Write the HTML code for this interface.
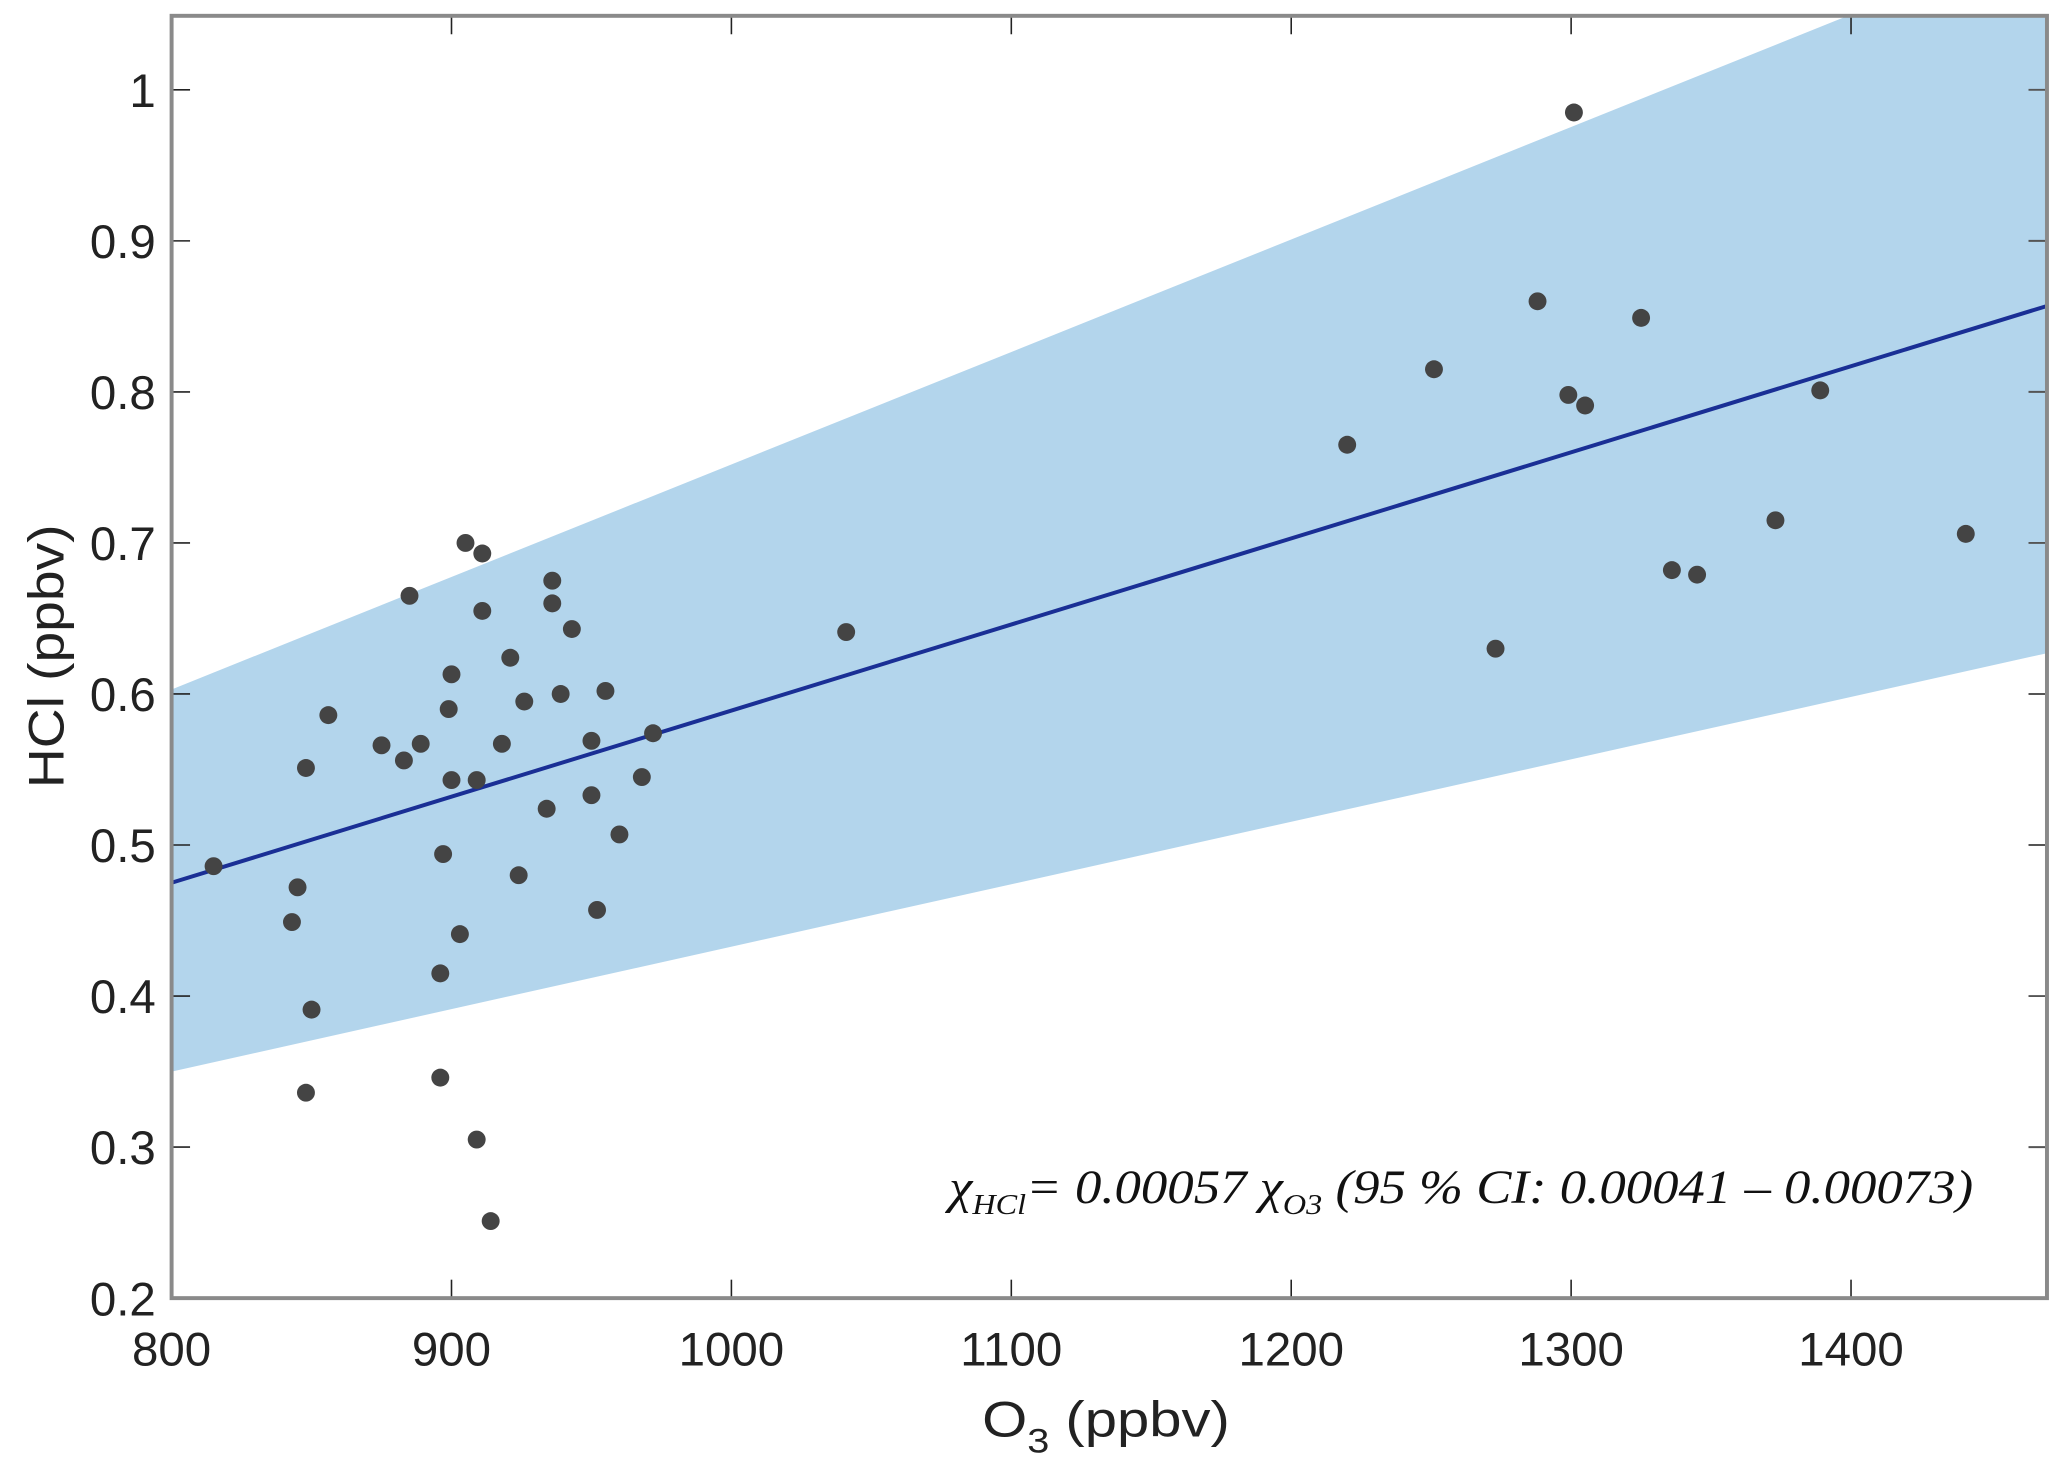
<!DOCTYPE html>
<html><head><meta charset="utf-8"><style>html,body{margin:0;padding:0;background:#fff}svg{display:block}</style></head>
<body>
<svg id="chart" width="2067" height="1480" viewBox="0 0 1568 1123" xmlns="http://www.w3.org/2000/svg" font-family="'Liberation Sans', sans-serif">
<g id="plot"></g>
<text x="720" y="913" font-family="'Liberation Serif', serif" font-style="italic" font-size="36" fill="#111" textLength="777" lengthAdjust="spacingAndGlyphs">χ<tspan font-size="22" dy="8">HCl</tspan><tspan dy="-8">= 0.00057 χ</tspan><tspan font-size="22" dy="8">O3</tspan><tspan dy="-8"> (95 % CI: 0.00041 – 0.00073)</tspan></text>
<text x="745" y="1090" font-size="38" fill="#222" textLength="188" lengthAdjust="spacingAndGlyphs">O<tspan font-size="26" dy="12">3</tspan><tspan dy="-12"> (ppbv)</tspan></text>
<text transform="translate(48,498) rotate(-90)" text-anchor="middle" font-size="38" fill="#222" textLength="200" lengthAdjust="spacingAndGlyphs">HCl (ppbv)</text>
</svg>
<script>
const xTicks=[800,900,1000,1100,1200,1300,1400];
const yTicks=[0.2,0.3,0.4,0.5,0.6,0.7,0.8,0.9,1];
const yTickLabels=["0.2","0.3","0.4","0.5","0.6","0.7","0.8","0.9","1"];
const xDomain=[800,1470];
const yDomain=[0.2,1.049];
const fitSlope=0.00057;
const fitIntercept=0.475-0.00057*800;
const ciUpper=[0.603,1.102];
const ciLower=[0.350,0.627];
const o3=[815,845,843,848,850,848,856,875,883,885,889,896,896,897,899,900,900,903,905,909,909,911,911,914,918,921,924,926,934,936,936,939,943,950,950,952,955,960,968,972,1041,1220,1251,1273,1288,1299,1301,1305,1325,1336,1345,1373,1389,1441];
const hcl=[0.486,0.472,0.449,0.551,0.391,0.336,0.586,0.566,0.556,0.665,0.567,0.346,0.415,0.494,0.590,0.543,0.613,0.441,0.700,0.543,0.305,0.693,0.655,0.251,0.567,0.624,0.480,0.595,0.524,0.675,0.660,0.600,0.643,0.533,0.569,0.457,0.602,0.507,0.545,0.574,0.641,0.765,0.815,0.630,0.860,0.798,0.985,0.791,0.849,0.682,0.679,0.715,0.801,0.706];
const L=130,R=1553,T=12,B=985;
const sx=v=>L+(v-xDomain[0])/(xDomain[1]-xDomain[0])*(R-L);
const sy=v=>B-(v-yDomain[0])/(yDomain[1]-yDomain[0])*(B-T);
const NS="http://www.w3.org/2000/svg";
const g=document.getElementById('plot');
function mk(t,a){const e=document.createElementNS(NS,t);for(const k in a)e.setAttribute(k,a[k]);g.appendChild(e);return e;}
const defs=mk('defs',{});
const cp=document.createElementNS(NS,'clipPath');cp.setAttribute('id','clip');
const cr=document.createElementNS(NS,'rect');cr.setAttribute('x',L);cr.setAttribute('y',T);cr.setAttribute('width',R-L);cr.setAttribute('height',B-T);cp.appendChild(cr);defs.appendChild(cp);
const band=mk('polygon',{points:`${sx(xDomain[0])},${sy(ciUpper[0])} ${sx(xDomain[1])},${sy(ciUpper[1])} ${sx(xDomain[1])},${sy(ciLower[1])} ${sx(xDomain[0])},${sy(ciLower[0])}`,fill:'#b3d5ec','clip-path':'url(#clip)'});


const fl=mk('line',{x1:sx(xDomain[0]),y1:sy(fitIntercept+fitSlope*xDomain[0]),x2:sx(xDomain[1]),y2:sy(fitIntercept+fitSlope*xDomain[1]),stroke:'#1a2f95','stroke-width':3});


o3.forEach((v,i)=>{const c=mk('circle',{cx:sx(v),cy:sy(hcl[i]),r:6.8,fill:'#444'});

});
xTicks.forEach(v=>{const x=sx(v);
mk('line',{x1:x,y1:B,x2:x,y2:B-14,stroke:'#222','stroke-width':1.2});
mk('line',{x1:x,y1:T,x2:x,y2:T+14,stroke:'#222','stroke-width':1.2});
const t=mk('text',{x:x,y:B+51,'text-anchor':'middle','font-size':36,fill:'#222'});t.textContent=v;

});
yTicks.forEach((v,i)=>{const y=sy(v);
mk('line',{x1:L,y1:y,x2:L+14,y2:y,stroke:'#222','stroke-width':1.2});
mk('line',{x1:R,y1:y,x2:R-14,y2:y,stroke:'#555','stroke-width':1.5});
const t=mk('text',{x:L-12,y:y+13,'text-anchor':'end','font-size':36,fill:'#222'});t.textContent=yTickLabels[i];

});
const ax=mk('rect',{x:L,y:T,width:R-L,height:B-T,fill:'none',stroke:'#8a8a8a','stroke-width':3});


</script>
</body></html>
